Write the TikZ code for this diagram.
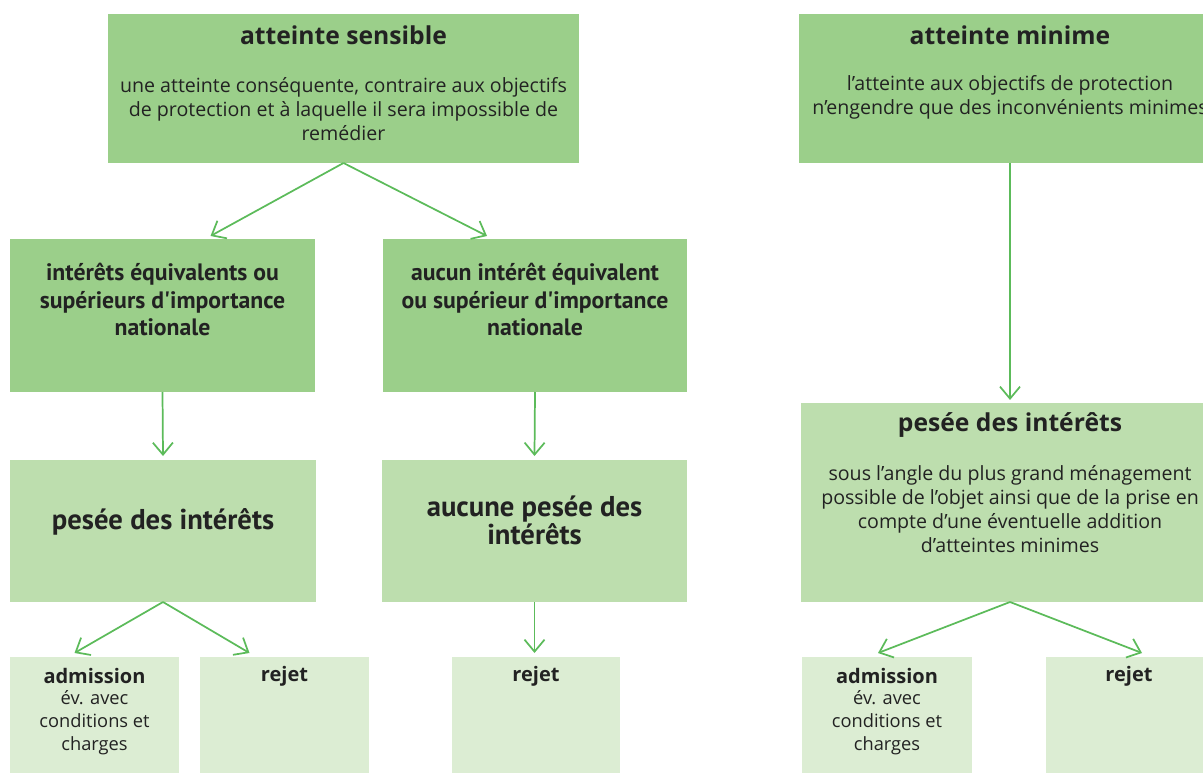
\documentclass[tikz,border=0pt]{standalone}
\usepackage{fontspec}
\setmainfont{Open Sans}
\newfontfamily\condfont{PT Sans}
\usetikzlibrary{arrows.meta,calc,positioning}
\definecolor{darkgr}{HTML}{9BCF8A}
\definecolor{midgr}{HTML}{BDDEAE}
\definecolor{lightgr}{HTML}{DCEDD3}
\definecolor{arrgr}{HTML}{5CBB5A}
\definecolor{txt}{HTML}{222222}

\begin{document}
\begin{tikzpicture}[x=0.75pt,y=-0.75pt,
  box/.style n args={3}{fill=#1,minimum width=#2*0.75pt,minimum height=#3*0.75pt,
    anchor=north west,inner sep=0pt,outer sep=0pt},
  head/.style={font=\fontsize{18.5}{22}\selectfont\bfseries,text=txt,inner sep=0pt},
  body/.style={font=\fontsize{14.7}{18}\selectfont,text=txt,align=center,inner sep=0pt},
  cond/.style={font=\condfont\fontsize{17.8}{20.5}\selectfont\bfseries,text=txt,align=center,inner sep=0pt},
  bigcond/.style={font=\condfont\fontsize{21.5}{19.5}\selectfont\bfseries,text=txt,align=center,inner sep=0pt},
  shead/.style={font=\fontsize{15}{17}\selectfont\bfseries,text=txt,inner sep=0pt},
  sbody/.style={font=\fontsize{13.7}{17.3}\selectfont,text=txt,align=center,inner sep=0pt},
  arr/.style={draw=arrgr,line width=1.3pt,-{Straight Barb[length=9pt,width=15pt]}}]

  \useasboundingbox (0,0) rectangle (1203,773);
  \clip (0,0) rectangle (1203,773);

  % left part
  \node[box={darkgr}{471}{149}] (sensible) at (108,14) {};
  \node[box={darkgr}{305}{153}] (equiv) at (10,239) {};
  \node[box={darkgr}{304}{153}] (nonequiv) at (383,239) {};
  \node[box={midgr}{306}{142}] (pesee) at (10,460) {};
  \node[box={midgr}{305}{142}] (nopesee) at (382,460) {};
  \node[box={lightgr}{169}{130}] (adm1) at (10,657) {};
  \node[box={lightgr}{169}{130}] (rej1) at (200,657) {};
  \node[box={lightgr}{168}{130}] (rej2) at (452,657) {};

  \node[head] (sensibleT) at ($(sensible.north)+(0,21)$) {atteinte sensible};
  \node[body] (sensibleB) at ($(sensible.north)+(0,95)$)
    {une atteinte conséquente, contraire aux objectifs\\de protection et à laquelle il sera impossible de\\remédier};
  \node[cond] (equivT) at ($(equiv.north)+(0,60.5)$)
    {intérêts équivalents ou\\supérieurs d'importance\\nationale};
  \node[cond] (nonequivT) at ($(nonequiv.north)+(0,60.5)$)
    {aucun intérêt équivalent\\ou supérieur d'importance\\nationale};
  \node[bigcond] (peseeT) at ($(pesee.north)+(0,62)$) {pesée des intérêts};
  \node[bigcond] (nopeseeT) at ($(nopesee.north)+(0,60)$) {aucune pesée des\\intérêts};
  \node[shead] (adm1T) at ($(adm1.north)+(0,19)$) {admission};
  \node[sbody] (adm1B) at ($(adm1.north)+(0,65.5)$) {év. avec\\conditions et\\charges};
  \node[shead] (rej1T) at ($(rej1.north)+(0,19)$) {rejet};
  \node[shead] (rej2T) at ($(rej2.north)+(0,19)$) {rejet};

  \draw[arr] (sensible.south) -- ($(equiv.north)+(48,-3)$);
  \draw[arr] (sensible.south) -- ($(nonequiv.north)+(-48,-3)$);
  \draw[arr] (equiv.south) -- ($(pesee.north)+(0,-4)$);
  \draw[arr] (nonequiv.south) -- ($(nopesee.north)+(0,-4)$);
  \draw[arr] (pesee.south) -- ($(adm1.north)+(-20,-4)$);
  \draw[arr] (pesee.south) -- ($(rej1.north)+(-35,-4)$);
  \draw[arr] (nopesee.south) -- ($(nopesee.south |- rej2.north)+(0,-4)$);

  % right part
  \node[box={darkgr}{422}{149}] (minime) at (799,14) {};
  \node[box={midgr}{418}{199}] (pesee2) at (801,403) {};
  \node[box={lightgr}{170}{130}] (adm2) at (802,657) {};
  \node[box={lightgr}{170}{130}] (rej3) at (1046,657) {};

  \node[head] (minimeT) at ($(minime.north)+(0,21)$) {atteinte minime};
  \node[body] (minimeB) at ($(minime.north)+(0,83)$)
    {l'atteinte aux objectifs de protection\\n'engendre que des inconvénients minimes};
  \node[head] (pesee2T) at ($(pesee2.north)+(0,22)$) {pesée des intérêts};
  \node[body] (pesee2B) at ($(pesee2.north)+(0,106)$)
    {sous l'angle du plus grand ménagement\\possible de l'objet ainsi que de la prise en\\compte d'une éventuelle addition\\d'atteintes minimes};
  \node[shead] (adm2T) at ($(adm2.north)+(0,19)$) {admission};
  \node[sbody] (adm2B) at ($(adm2.north)+(0,65.5)$) {év. avec\\conditions et\\charges};
  \node[shead] (rej3T) at ($(rej3.north)+(-2,19)$) {rejet};

  \draw[arr] (minime.south) -- ($(pesee2.north)+(0,-3)$);
  \draw[arr] (pesee2.south) -- ($(adm2.north)+(-9,-4)$);
  \draw[arr] (pesee2.south) -- ($(rej3.north)+(11,-4)$);
\end{tikzpicture}
\end{document}
